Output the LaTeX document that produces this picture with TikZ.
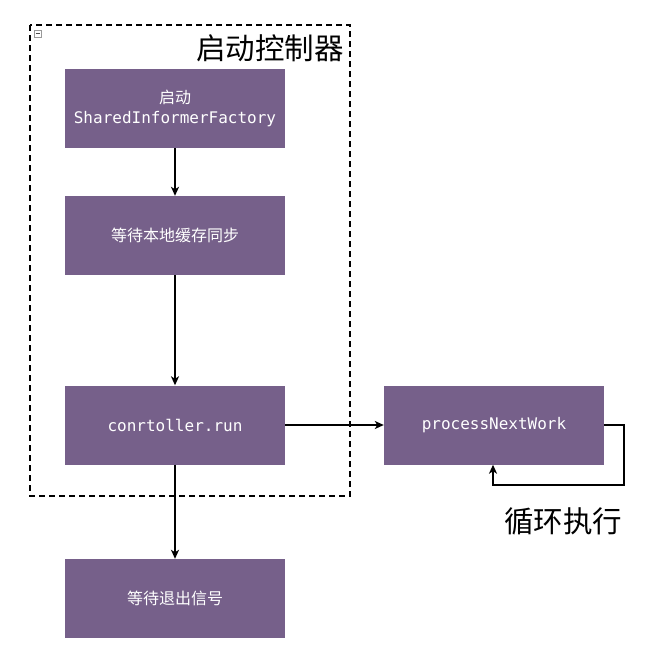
\documentclass[tikz,border=0pt]{standalone}
\usepackage{fontspec}
\setmonofont{DejaVu Sans Mono}
\newfontfamily\cjk{Noto Sans CJK SC}
\usetikzlibrary{arrows.meta,calc}
\definecolor{boxpurple}{HTML}{76608A}
\tikzset{
  procbox/.style={rectangle, fill=boxpurple, draw=none, minimum width=220pt, minimum height=79pt, text=white, align=center, font=\fontsize{16}{19.5}\selectfont\ttfamily, inner sep=0pt},
  conn/.style={line width=1.8pt, -{Stealth[length=9pt,width=8pt,inset=2.5pt]}},
  container/.style={draw=black, line width=1.5pt, dash pattern=on 6pt off 4pt},
  bigtext/.style={font=\fontsize{29.5}{33}\selectfont\cjk, inner sep=0pt}
}
\begin{document}
\begin{tikzpicture}[x=1pt,y=-1pt]
\useasboundingbox (0,0) rectangle (653,648);
% container
\draw[container] (30,25) rectangle (350,496);
% collapse icon
\node[draw=gray!80, fill=white, line width=0.7pt, minimum size=7pt, inner sep=0pt] (icon) at (37.5,33.5) {};
\draw[line width=0.9pt, black!70] ($(icon.center)+(-2,0)$) -- ($(icon.center)+(2,0)$);
\node[bigtext, anchor=east] (title) at (344,48) {启动控制器};
% boxes
\node[procbox] (b1) at (175,108.5) {{\cjk 启动}\\SharedInformerFactory};
\node[procbox] (b2) at (175,235.5) {{\cjk 等待本地缓存同步}};
\node[procbox] (b3) at (175,425) {conrtoller.run};
\node[procbox] (b4) at (175,598.5) {{\cjk 等待退出信号}};
\node[procbox] (pnw) at (494,425) {processNextWork};
% connectors
\draw[conn] (b1) -- (b2);
\draw[conn] (b2) -- (b3);
\draw[conn] (b3) -- (b4);
\draw[conn, line width=2.4pt] (b3) -- (pnw);
\coordinate (loopc) at (624,485);
\draw[conn] (pnw.east) -| (loopc) -| ([xshift=-1pt]pnw.south);
\node[bigtext] (looplabel) at (563,521) {循环执行};
\end{tikzpicture}
\end{document}
